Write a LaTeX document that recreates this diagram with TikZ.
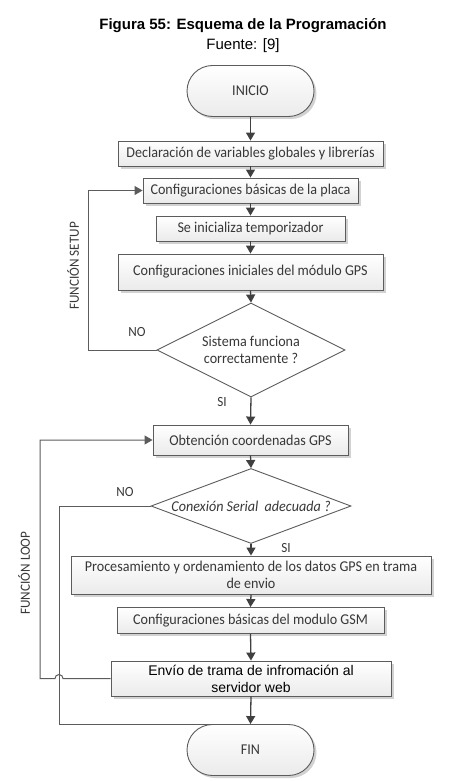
\documentclass[tikz,border=0pt]{standalone}
\usepackage{fontspec}
\setmainfont{Carlito}[FakeStretch=0.94]
\newfontfamily\arialfont{Liberation Sans}
\usetikzlibrary{shapes.geometric,shapes.misc,shadows,arrows.meta}
\definecolor{linecol}{HTML}{404040}
\definecolor{bordercol}{HTML}{5C5C5C}
\definecolor{textcol}{HTML}{383838}
\begin{document}
\begin{tikzpicture}%
	[x=1pt, y=-1pt,
	box/.style={draw=bordercol, line width=0.9pt, top color=white, bottom color=gray!16,
		drop shadow={shadow xshift=2.5pt, shadow yshift=-2.5pt, fill=gray!70, opacity=0.5},
		inner sep=0pt, text=textcol, font=\fontsize{15}{17}\selectfont, align=center},
	term/.style={box, rounded rectangle},
	decision/.style={diamond, draw=bordercol, line width=0.9pt, fill=white, inner sep=0pt},
	dtext/.style={text=textcol, font=\fontsize{15}{17}\selectfont, align=center, inner sep=0pt},
	line/.style={draw=linecol, line width=1.3pt},
	loopline/.style={draw=bordercol, line width=1pt},
	arrow/.style={line, -{Triangle[width=9pt,length=8pt]}},
	looparrow/.style={loopline, -{Triangle[width=9pt,length=8pt]}},
	tag/.style={text=textcol, font=\fontsize{14}{16}\selectfont, inner sep=0pt}]
%
%% Bounding box and title
\useasboundingbox (0,0) rectangle (456,781);
\node[font=\arialfont\bfseries\fontsize{15}{17}\selectfont] (title) at (243,26) {Figura 55: Esquema de la Programación};
\node[font=\arialfont\fontsize{15}{17}\selectfont] (source) at (243,46) {Fuente: [9]};
%%
%% Drawing the blocks
%%
\node[term, minimum width=127pt, minimum height=51pt] (inicio) at (250.5,91) {INICIO};
\node[box, minimum width=265pt, minimum height=25pt] (decl) at (250.5,153.5) {Declaración de variables globales y librerías};
\node[box, minimum width=215pt, minimum height=25pt] (placa) at (250.5,190.5) {Configuraciones básicas de la placa};
\node[box, minimum width=189pt, minimum height=25pt] (timer) at (250.5,228.5) {Se inicializa temporizador};
\node[box, minimum width=265pt, minimum height=36pt] (gpsini) at (250.5,272) {Configuraciones iniciales del módulo GPS};
\node[decision, minimum width=188pt, minimum height=94pt,
	label={[dtext]center:Sistema funciona\\correctamente ?}] (sistema) at (251,350) {};
\node[box, minimum width=195pt, minimum height=30pt] (coord) at (250.5,440) {Obtención coordenadas GPS};
\node[decision, minimum width=200pt, minimum height=75pt,
	label={[dtext, font=\itshape\fontsize{15}{17}\selectfont]center:Conexión Serial\ \ adecuada ?}] (serial) at (251,506) {};
\node[box, minimum width=360pt, minimum height=38pt] (proc) at (251,575) {Procesamiento y ordenamiento de los datos GPS en trama\\de envio};
\node[box, minimum width=267pt, minimum height=26pt] (gsm) at (250.5,620.5) {Configuraciones básicas del modulo GSM};
\node[box, minimum width=280pt, minimum height=35pt, text=black, font=\arialfont\fontsize{14}{17}\selectfont] (envio) at (251,678.5) {Envío de trama de infromación al\\servidor web};
\node[term, minimum width=127pt, minimum height=51pt] (fin) at (250.5,750) {FIN};
%%
%% Drawing the arrows
%%
\draw[arrow] (inicio.south) -- (decl.north);
\draw[arrow] (decl.south) -- (placa.north);
\draw[arrow] (placa.south) -- (timer.north);
\draw[arrow] (timer.south) -- (gpsini.north);
\draw[arrow] (gpsini.south) -- (sistema.north);
\draw[arrow] (sistema.south) -- (coord.north);
\draw[arrow] (coord.south) -- (serial.north);
\draw[arrow] (serial.south) -- (proc.north);
\draw[arrow] (proc.south) -- (gsm.north);
\draw[arrow] (gsm.south) -- (envio.north);
\draw[arrow] (envio.south) -- (fin.north);
%%
%% Drawing the loops
%%
\coordinate (setupleft) at (88,350);
\coordinate (noleft) at (59,506);
\coordinate (hopright) at (63,678.5);
\coordinate (loopleft) at (40,678.5);
\draw[looparrow] (sistema.west) -- (setupleft) |- (placa.west);
\draw[loopline] (serial.west) -- (noleft) |- (fin.north);
\draw[looparrow] (envio.west) -- (hopright) arc (0:-180:4) -- (loopleft) |- (coord.west);
%%
%% Drawing the labels
%%
\node[tag] (nosetup) at (137,332) {NO};
\node[tag] (sisetup) at (222,402) {SI};
\node[tag] (noloop) at (125,492) {NO};
\node[tag] (siloop) at (286,548) {SI};
\node[tag, rotate=90] (fsetup) at (73,266) {FUNCIÓN SETUP};
\node[tag, rotate=90] (floop) at (24,573) {FUNCIÓN LOOP};
%%
\end{tikzpicture}
\end{document}
